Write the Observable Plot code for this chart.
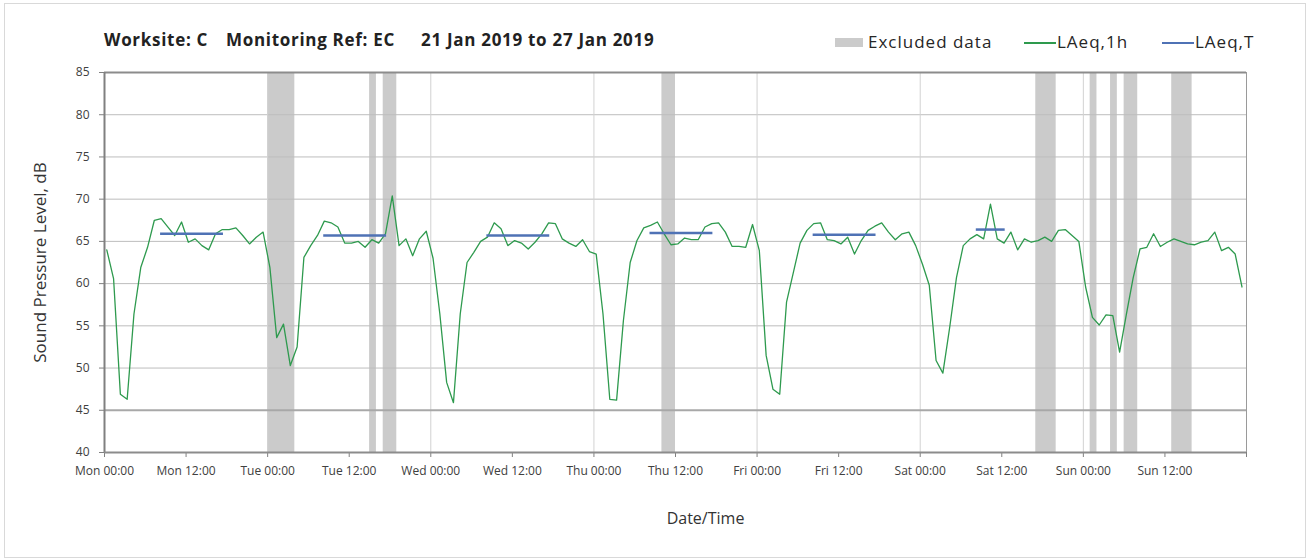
<!DOCTYPE html>
<html>
<head>
<meta charset="utf-8">
<script src="https://cdn.jsdelivr.net/npm/d3@7"></script>
<script src="https://cdn.jsdelivr.net/npm/@observablehq/plot@0.6"></script>
<style>
  body { margin: 0; background: #fff; font-family: "Open Sans", sans-serif; }
  #chart { position: relative; width: 1309px; height: 560px; overflow: hidden; }
  #frame { position: absolute; left: 4px; top: 3px; width: 1302px; height: 555px; border: 1px solid #d9d9d9; box-sizing: border-box; }
  #plot { position: absolute; left: 0; top: 0; }
  .title { position: absolute; top: 28px; font-weight: bold; font-size: 17px; letter-spacing: 0.7px; color: #222; white-space: nowrap; }
  .legend { position: absolute; top: 30px; font-size: 17px; letter-spacing: 1px; color: #262626; white-space: nowrap; }
  .swatch { position: absolute; }
</style>
</head>
<body>
<div id="chart">
  <div id="frame"></div>
  <div id="plot"></div>
  <div class="title" style="left:104px">Worksite: C</div>
  <div class="title" style="left:226px">Monitoring Ref: EC</div>
  <div class="title" style="left:421px">21 Jan 2019 to 27 Jan 2019</div>
  <div class="swatch" style="left:835px;top:38px;width:28px;height:9px;background:#cbcbcb"></div>
  <div class="legend" style="left:868px">Excluded data</div>
  <div class="swatch" style="left:1024px;top:42px;width:32px;height:1.5px;background:#2e9a4e"></div>
  <div class="legend" style="left:1057px">LAeq,1h</div>
  <div class="swatch" style="left:1162px;top:42px;width:32px;height:2px;background:#4f72b5"></div>
  <div class="legend" style="left:1195px">LAeq,T</div>
</div>
<script>
// Monitoring week: Mon 21 Jan 2019 00:00 to Mon 28 Jan 2019 00:00
const weekStart = new Date("2019-01-21T00:00:00Z");
const weekEnd = new Date("2019-01-28T00:00:00Z");
// hourly values are logged 20 minutes into each hour
const firstReading = new Date("2019-01-21T00:20:00Z");

// LAeq,1h (dB), one value per hour
const laeq1h = [
  64.0, 60.6, 46.9, 46.3, 56.4, 61.9, 64.3, 67.5, 67.7, 66.7,
  65.7, 67.3, 64.9, 65.3, 64.5, 64.0, 65.9, 66.4, 66.4, 66.6,
  65.7, 64.7, 65.5, 66.1, 61.9, 53.6, 55.2, 50.3, 52.5, 63.1,
  64.5, 65.7, 67.4, 67.2, 66.7, 64.8, 64.8, 65.0, 64.3, 65.2,
  64.8, 65.9, 70.4, 64.5, 65.3, 63.3, 65.3, 66.2, 63.0, 56.4,
  48.3, 45.9, 56.4, 62.5, 63.7, 65.0, 65.5, 67.2, 66.5, 64.5,
  65.1, 64.8, 64.1, 64.9, 65.9, 67.2, 67.1, 65.3, 64.8, 64.4,
  65.2, 63.8, 63.5, 56.4, 46.3, 46.2, 55.6, 62.5, 65.1, 66.6,
  66.9, 67.3, 65.9, 64.6, 64.7, 65.4, 65.2, 65.2, 66.7, 67.1,
  67.2, 66.1, 64.4, 64.4, 64.3, 67.0, 63.9, 51.5, 47.5, 46.9,
  57.8, 61.3, 64.8, 66.3, 67.1, 67.2, 65.2, 65.1, 64.7, 65.5,
  63.5, 65.1, 66.3, 66.8, 67.2, 66.1, 65.2, 65.9, 66.1, 64.5,
  62.3, 59.8, 50.9, 49.4, 54.8, 60.7, 64.5, 65.3, 65.8, 65.3,
  69.4, 65.3, 64.8, 66.1, 64.0, 65.3, 64.9, 65.1, 65.5, 65.0,
  66.3, 66.4, 65.7, 65.0, 59.6, 56.0, 55.1, 56.3, 56.2, 51.9,
  56.4, 60.7, 64.1, 64.3, 65.9, 64.4, 64.9, 65.3, 65.0, 64.7,
  64.6, 64.9, 65.1, 66.1, 63.9, 64.3, 63.5, 59.6
];

// LAeq,T over each working period
const periodStart = ["2019-01-21T08:15", "2019-01-22T08:15", "2019-01-23T08:15", "2019-01-24T08:15", "2019-01-25T08:15", "2019-01-26T08:15"];
const periodEnd   = ["2019-01-21T17:30", "2019-01-22T17:30", "2019-01-23T17:30", "2019-01-24T17:30", "2019-01-25T17:30", "2019-01-26T12:30"];
const laeqT       = [65.9, 65.7, 65.7, 66.0, 65.8, 66.4];

// Excluded data periods
const excludedStart = ["2019-01-22T00:00", "2019-01-22T15:00", "2019-01-22T17:00", "2019-01-24T10:00", "2019-01-26T17:00", "2019-01-27T01:00", "2019-01-27T04:00", "2019-01-27T06:00", "2019-01-27T13:00"];
const excludedEnd   = ["2019-01-22T04:00", "2019-01-22T16:00", "2019-01-22T19:00", "2019-01-24T12:00", "2019-01-26T20:00", "2019-01-27T02:00", "2019-01-27T05:00", "2019-01-27T08:00", "2019-01-27T16:00"];

// Axis ticks
const yTicks = [40, 45, 50, 55, 60, 65, 70, 75, 80, 85];
const xTickLabels = ["Mon 00:00", "Mon 12:00", "Tue 00:00", "Tue 12:00", "Wed 00:00", "Wed 12:00", "Thu 00:00",
                     "Thu 12:00", "Fri 00:00", "Fri 12:00", "Sat 00:00", "Sat 12:00", "Sun 00:00", "Sun 12:00", ""];

const utc = s => new Date(s + ":00Z");
const hourly = laeq1h.map((value, i) => ({time: d3.utcHour.offset(firstReading, i), value}));
const periods = laeqT.map((value, i) => ({from: utc(periodStart[i]), to: utc(periodEnd[i]), value}));
const excluded = excludedStart.map((s, i) => ({from: utc(s), to: utc(excludedEnd[i])}));
const xTicks = d3.utcHour.every(12).range(weekStart, d3.utcHour.offset(weekEnd, 1));
const midnights = d3.utcDay.range(d3.utcDay.offset(weekStart, 1), weekEnd);

const chart = Plot.plot({
  width: 1309,
  height: 560,
  marginLeft: 104,
  marginRight: 63,
  marginTop: 72,
  marginBottom: 108,
  x: {type: "utc", domain: [weekStart, weekEnd]},
  y: {domain: [40, 85]},
  style: {fontFamily: "Open Sans", fontSize: "12px", color: "#404040", background: "transparent"},
  marks: [
    Plot.rect(excluded, {x1: "from", x2: "to", fill: "#cbcbcb"}),
    Plot.ruleY(yTicks.filter(v => v > 45 && v < 85), {stroke: "#bdbdbd", strokeWidth: 1}),
    Plot.ruleX(midnights, {stroke: "#d2d2d2", strokeWidth: 1}),
    Plot.ruleY([45], {stroke: "#a8a8a8", strokeWidth: 2}),
    Plot.ruleY([85], {stroke: "#8c8c8c", strokeWidth: 2}),
    Plot.ruleX([weekEnd], {stroke: "#9a9a9a", strokeWidth: 1}),
    Plot.axisY({ticks: yTicks, tickSize: 5, tickPadding: 10, label: null, stroke: "#808080", fill: "#404040"}),
    Plot.axisX({ticks: xTicks, tickSize: 5, tickPadding: 9, label: null, stroke: "#808080", fill: "#404040",
                tickFormat: (d, i) => xTickLabels[i], style: {letterSpacing: "0.4px"}}),
    Plot.ruleX([weekStart], {stroke: "#808080", strokeWidth: 2}),
    Plot.ruleY([40], {stroke: "#8c8c8c", strokeWidth: 2}),
    Plot.line(hourly, {x: "time", y: "value", stroke: "#2e9a4e", strokeWidth: 1.3}),
    Plot.ruleY(periods, {x1: "from", x2: "to", y: "value", stroke: "#4f72b5", strokeWidth: 2.5}),
    Plot.text(["Sound Pressure Level, dB"], {frameAnchor: "left", rotate: -90, dx: -64, textAnchor: "middle", lineAnchor: "middle", fontSize: 17, fill: "#333"}),
    Plot.text(["Date/Time"], {frameAnchor: "bottom", dy: 66, dx: 30, textAnchor: "middle", lineAnchor: "middle", fontSize: 16, fill: "#333"})
  ]
});
document.getElementById("plot").appendChild(chart);
</script>
</body>
</html>
